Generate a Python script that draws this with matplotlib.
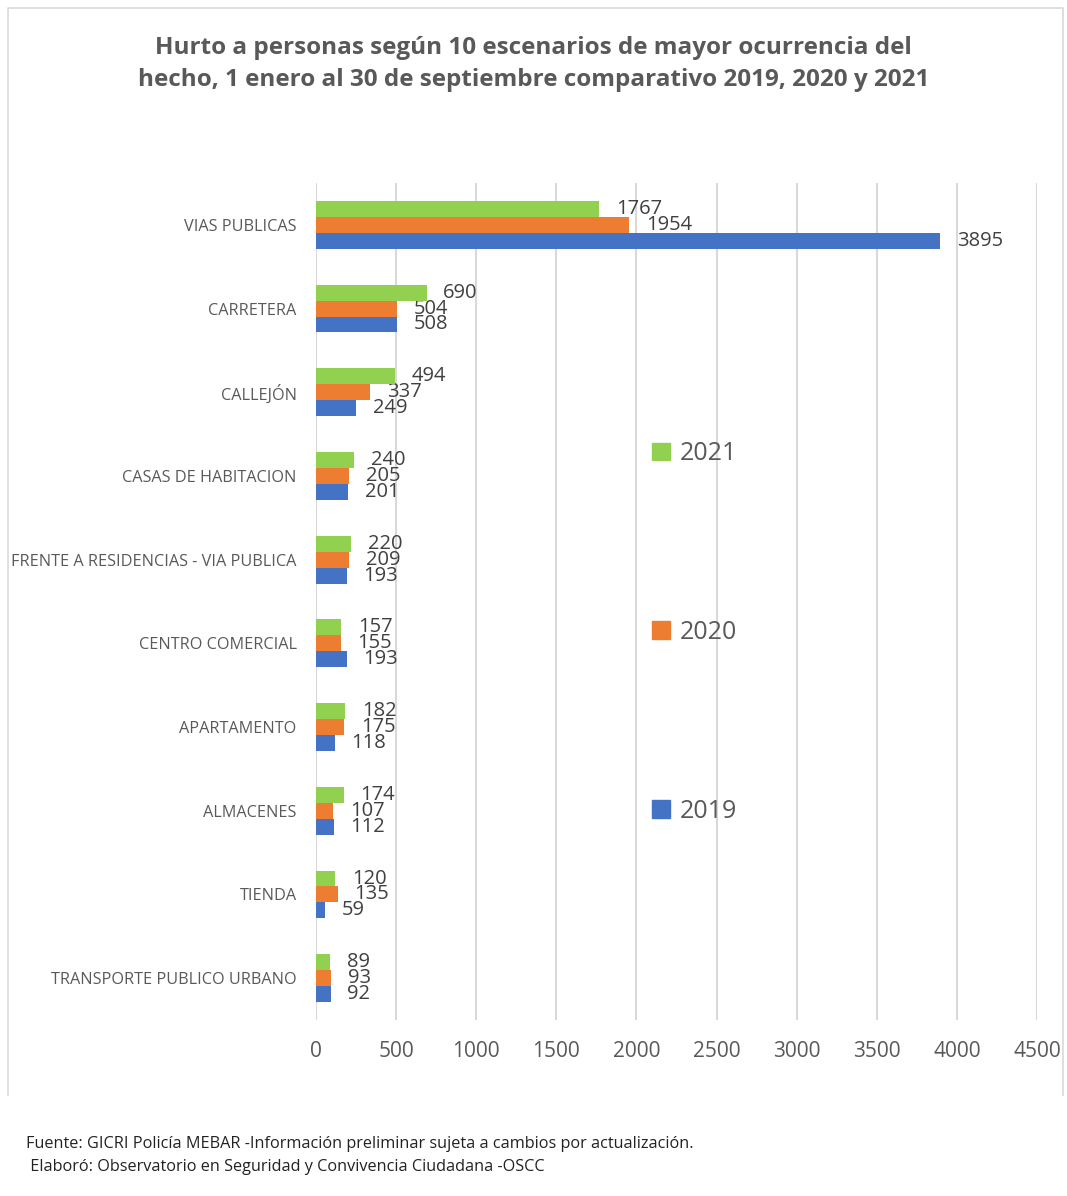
import numpy as np
import matplotlib.pyplot as plt
from matplotlib.lines import Line2D
from matplotlib.patches import Patch

plt.rcParams['font.family'] = ['Open Sans', 'DejaVu Sans']

categories = ['VIAS PUBLICAS', 'CARRETERA', 'CALLEJÓN', 'CASAS DE HABITACION',
              'FRENTE A RESIDENCIAS - VIA PUBLICA', 'CENTRO COMERCIAL',
              'APARTAMENTO', 'ALMACENES', 'TIENDA', 'TRANSPORTE PUBLICO URBANO']
v2019 = [3895, 508, 249, 201, 193, 193, 118, 112, 59, 92]
v2020 = [1954, 504, 337, 205, 209, 155, 175, 107, 135, 93]
v2021 = [1767, 690, 494, 240, 220, 157, 182, 174, 120, 89]
years = ['2019', '2020', '2021']
colors = ['#4472C4', '#ED7D31', '#92D050']

title = ('Hurto a personas según 10 escenarios de mayor ocurrencia del\n'
         'hecho, 1 enero al 30 de septiembre comparativo 2019, 2020 y 2021')
footer1 = 'Fuente: GICRI Policía MEBAR -Información preliminar sujeta a cambios por actualización.'
footer2 = ' Elaboró: Observatorio en Seguridad y Convivencia Ciudadana -OSCC'

W, H = 1067, 1196
fig = plt.figure(figsize=(W / 100, H / 100), dpi=100)
ax = fig.add_axes([316 / W, 1 - 1020 / H, (1037 - 316) / W, (1020 - 183) / H])

y = np.arange(len(categories))
h = 0.19
series = [v2019, v2020, v2021]
offsets = [h, 0, -h]
for vals, col, off in zip(series, colors, offsets):
    ax.barh(y + off, vals, height=h, color=col, zorder=3)
    for yi, v in zip(y, vals):
        ax.annotate(str(v), (v, yi + off), xytext=(12, 0), textcoords='offset points',
                    va='center', ha='left', fontsize=14.5, color='#404040')

ax.set_xlim(0, 4500)
ax.set_ylim(len(categories) - 0.5, -0.5)
ax.set_xticks(np.arange(0, 4501, 500))
ax.set_yticks(y)
ax.set_yticklabels(categories)
ax.tick_params(axis='x', length=0, pad=15, labelsize=15, labelcolor='#595959')
ax.tick_params(axis='y', length=0, pad=14, labelsize=11.7, labelcolor='#595959')
ax.grid(axis='x', color='#D9D9D9', linewidth=1.5, zorder=0)
for s in ax.spines.values():
    s.set_visible(False)

handles = [Patch(color=c) for c in colors][::-1]
fig.legend(handles, years[::-1], loc='upper left', bbox_to_anchor=(652 / W, 1 - 441 / H),
           frameon=False, fontsize=18, labelcolor='#595959', handlelength=0.7,
           handleheight=0.7, handletextpad=0.4, labelspacing=6.15, borderpad=0,
           borderaxespad=0)

fig.text(0.5, 1 - 64 / H, title, ha='center', va='center', fontsize=17.5,
         fontweight='bold', color='#595959', linespacing=1.5)
fig.text(26 / W, 1 - 1144 / H, footer1, ha='left', va='center', fontsize=11.7, color='#222222')
fig.text(26 / W, 1 - 1167 / H, footer2, ha='left', va='center', fontsize=11.7, color='#222222')

# chart frame
fx = [8 / W, 8 / W, 1063 / W, 1063 / W]
fy = [1 - 1095 / H, 1 - 8 / H, 1 - 8 / H, 1 - 1095 / H]
fig.add_artist(Line2D(fx, fy, color='#D9D9D9', linewidth=1.2))

fig.savefig('out.png', dpi=100)
